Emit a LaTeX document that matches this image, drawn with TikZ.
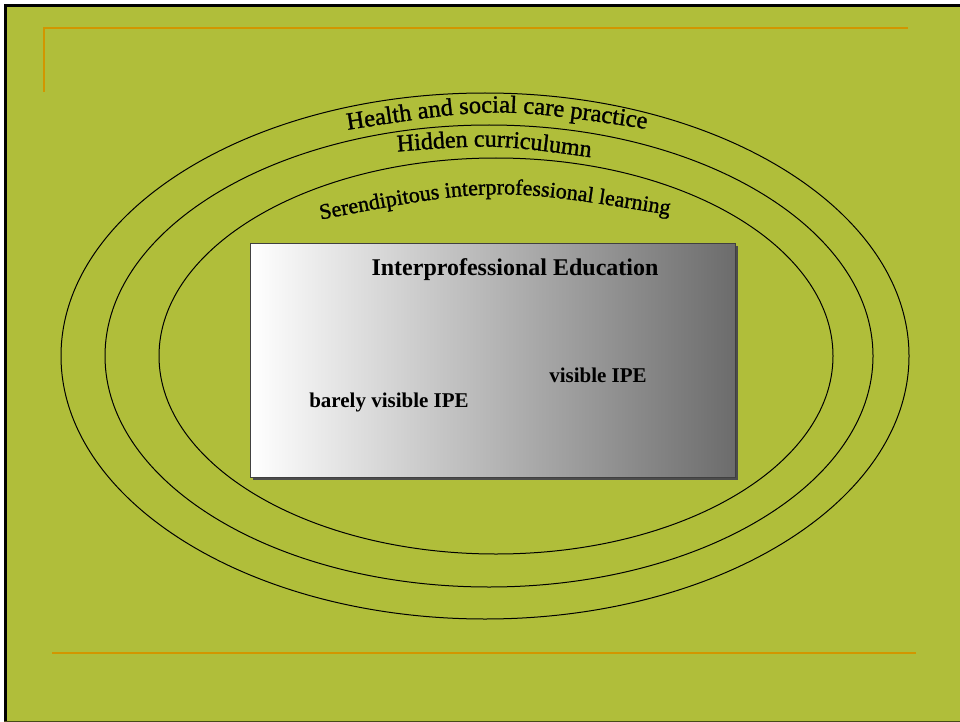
\documentclass[tikz,border=0pt]{standalone}
\usepackage{fontspec}
\setmainfont{Liberation Serif}
\usetikzlibrary{decorations.text,shadows}
\definecolor{slidegreen}{RGB}{176,190,58}
\definecolor{rulegold}{RGB}{210,150,0}
\definecolor{boxgray}{RGB}{108,108,108}

\begin{document}
\begin{tikzpicture}[
  x=1pt,y=-1pt,
  ring/.style={draw=black,line width=1pt},
  goldrule/.style={draw=rulegold,line width=2pt},
  arctext/.style args={#1:#2}{decorate,decoration={text along path,text align=center,
    text={|\fontsize{#1}{#1}\selectfont\addfontfeature{FakeBold=1.2}|#2}}},
  ipebox/.style={draw=black!75,line width=0.8pt,left color=white,right color=boxgray,
    minimum width=485pt,minimum height=234pt,inner sep=0pt,
    drop shadow={shadow xshift=2.5pt,shadow yshift=-2.5pt,fill=black!70,opacity=1}},
  boxlabel/.style={anchor=base,font=\bfseries\fontsize{21}{21}\selectfont},
]
  \useasboundingbox (0,0) rectangle (960,722);
  \fill[white] (0,0) rectangle (960,722);
  \fill[slidegreen] (4,4) rectangle (960,722);
  \draw[line width=3pt] (5.5,722) -- (5.5,5.5) -- (960,5.5);
  \draw[black!60!slidegreen,line width=1pt] (4,721.5) -- (960,721.5);
  \draw[goldrule] (44,92) -- (44,28.5) -- (908,28.5);
  \draw[goldrule] (52,652.5) -- (916,652.5);
  \foreach \cx/\rx/\ry in {485/424/263,489/384/231,496/337/198}
    \draw[ring] (\cx,356) ellipse [x radius=\rx pt,y radius=\ry pt];
  \path[arctext={24.5:Health and social care practice}] (340,131) .. controls (497,106.5) .. (654,130);
  \path[arctext={24:Hidden curriculumn}] (392,152) .. controls (494,144) .. (596,158);
  \path[arctext={22:Serendipitous interprofessional learning}] (308,222) .. controls (495,186) .. (682,217);
  \node[ipebox] (ipe) at (492.5,360) {};
  \node[boxlabel,font=\bfseries\fontsize{24}{24}\selectfont] (title) at (515,275) {Interprofessional Education};
  \node[boxlabel] (visible) at (598,382) {visible IPE};
  \node[boxlabel] (barely) at (389,407) {barely visible IPE};
\end{tikzpicture}
\end{document}
